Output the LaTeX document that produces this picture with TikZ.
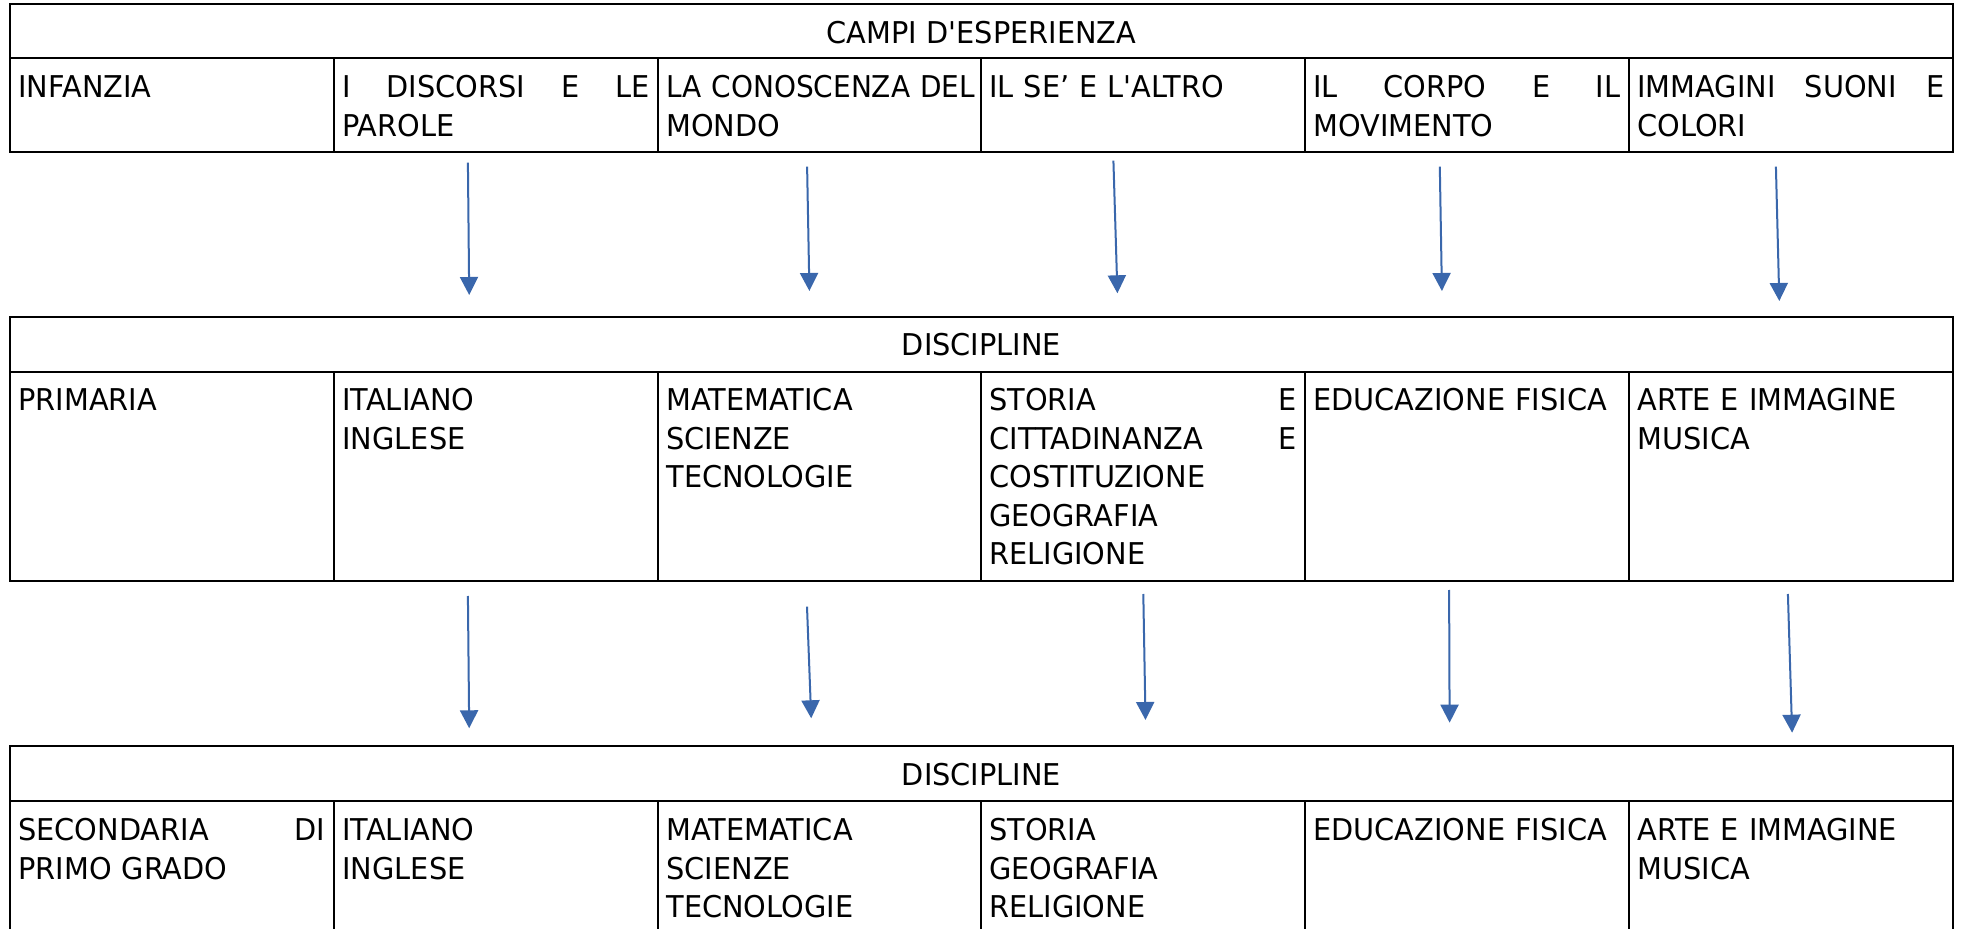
\documentclass[tikz,border=0pt]{standalone}
\usepackage{fontspec}
\newfontfamily\tfont{DejaVu Sans}[FakeStretch=0.96]
\usetikzlibrary{arrows.meta}
\definecolor{arrowblue}{RGB}{58,103,172}
\newcommand\jl[1]{\leavevmode\hbox to 153.5pt{#1}}
\begin{document}
\begin{tikzpicture}[x=0.5pt,y=-0.5pt,
  grid/.style={line width=1pt, draw=black},
  txt/.style={anchor=base west, inner sep=0pt, text width=153.5pt, align=left,
    font=\tfont\fontsize{15pt}{19.17pt}\selectfont},
  hdr/.style={anchor=base, inner sep=0pt, font=\tfont\fontsize{15pt}{19.17pt}\selectfont},
  arr/.style={draw=arrowblue, line width=1pt, -{Triangle[width=9pt,length=9pt]}}]
\useasboundingbox (0,0) rectangle (1968,929);
\clip (0,0) rectangle (1968,929);
\fill[white] (0,0) rectangle (1968,929);

% ---------- table 1 ----------
\draw[grid] (10,4) rectangle (1953,152);
\draw[grid] (10,58) -- (1953,58);
\foreach \x in {334,658,981,1305,1629} \draw[grid] (\x,58) -- (\x,152);
\node[hdr] (h1) at (981.5,43.5) {CAMPI D'ESPERIENZA};
\node[txt] (a1) at (18,98) {INFANZIA};
\node[txt] (a2) at (342,98) {\jl{I\hfill DISCORSI\hfill E\hfill LE}\\PAROLE};
\node[txt] (a3) at (666,98) {\jl{\scalebox{0.972}[1]{LA CONOSCENZA DEL}\hss}\\MONDO};
\node[txt] (a4) at (989,98) {IL SE’ E L'ALTRO};
\node[txt] (a5) at (1313,98) {\jl{IL\hfill CORPO\hfill E\hfill IL}\\MOVIMENTO};
\node[txt] (a6) at (1637,98) {\jl{IMMAGINI\hfill SUONI\hfill E}\\COLORI};

% ---------- table 2 ----------
\draw[grid] (10,317) rectangle (1953,580.7);
\draw[grid] (10,371.7) -- (1953,371.7);
\foreach \x in {334,658,981,1305,1629} \draw[grid] (\x,371.7) -- (\x,580.7);
\node[hdr] (h2) at (981.5,356) {DISCIPLINE};
\node[txt] (b1) at (18,411) {PRIMARIA};
\node[txt] (b2) at (342,411) {ITALIANO\\INGLESE};
\node[txt] (b3) at (666,411) {MATEMATICA\\SCIENZE\\TECNOLOGIE};
\node[txt] (b4) at (989,411) {\jl{STORIA\hfill E}\\\jl{CITTADINANZA\hfill E}\\COSTITUZIONE\\GEOGRAFIA\\RELIGIONE};
\node[txt] (b5) at (1313,411) {EDUCAZIONE FISICA};
\node[txt] (b6) at (1637,411) {ARTE E IMMAGINE\\MUSICA};

% ---------- table 3 ----------
\draw[grid] (10,745.7) rectangle (1953,1000);
\draw[grid] (10,801) -- (1953,801);
\foreach \x in {334,658,981,1305,1629} \draw[grid] (\x,801) -- (\x,1000);
\node[hdr] (h3) at (981.5,785) {DISCIPLINE};
\node[txt] (c1) at (18,840.7) {\jl{SECONDARIA\hfill DI}\\PRIMO GRADO};
\node[txt] (c2) at (342,840.7) {ITALIANO\\INGLESE};
\node[txt] (c3) at (666,840.7) {MATEMATICA\\SCIENZE\\TECNOLOGIE};
\node[txt] (c4) at (989,840.7) {STORIA\\GEOGRAFIA\\RELIGIONE};
\node[txt] (c5) at (1313,840.7) {EDUCAZIONE FISICA};
\node[txt] (c6) at (1637,840.7) {ARTE E IMMAGINE\\MUSICA};

% ---------- arrows ----------
\coordinate (p1s) at (467.9,162.7);  \coordinate (p1e) at (469.2,295);
\coordinate (p2s) at (807.1,166.7);  \coordinate (p2e) at (809.4,291);
\coordinate (p3s) at (1113.4,160.7); \coordinate (p3e) at (1117.4,293.3);
\coordinate (p4s) at (1439.8,166.7); \coordinate (p4e) at (1441.9,291);
\coordinate (p5s) at (1775.9,166.7); \coordinate (p5e) at (1779.3,301);
\coordinate (q1s) at (467.9,596);    \coordinate (q1e) at (469.2,728.3);
\coordinate (q2s) at (807,606.7);    \coordinate (q2e) at (811.2,718.3);
\coordinate (q3s) at (1143.3,594);   \coordinate (q3e) at (1145.5,720);
\coordinate (q4s) at (1449.1,590);   \coordinate (q4e) at (1449.6,722.7);
\coordinate (q5s) at (1787.9,594);   \coordinate (q5e) at (1792.1,732.7);
\foreach \i in {1,...,5} {
  \draw[arr] (p\i s) -- (p\i e);
  \draw[arr] (q\i s) -- (q\i e);
}
\end{tikzpicture}
\end{document}
